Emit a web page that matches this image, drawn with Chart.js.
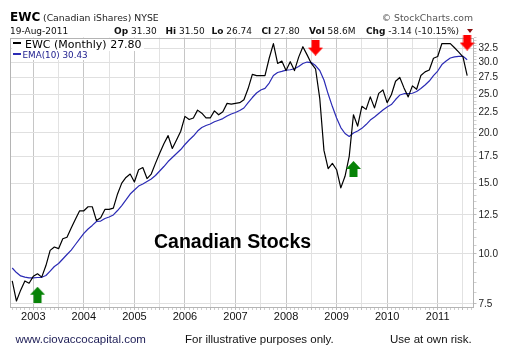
<!DOCTYPE html>
<html><head><meta charset="utf-8">
<script src="https://cdn.jsdelivr.net/npm/chart.js@4.4.1/dist/chart.umd.min.js"></script>
<style>
html,body{margin:0;padding:0;background:#fff;}
#wrap{position:relative;width:505px;height:359px;overflow:hidden;background:#fff;}
#c{position:absolute;left:0;top:0;}
.t{position:absolute;white-space:nowrap;line-height:1;font-family:"DejaVu Sans",Verdana,sans-serif;color:#111;}
.a{font-family:"Liberation Sans",Arial,sans-serif;}
.leg{background:#fff;}
</style></head><body>
<div id="wrap">
<canvas id="c" width="505" height="359"></canvas>
<div class="t" style="left:10px;top:10.5px;font-size:12px;font-weight:bold;color:#000;">EWC</div>
<div class="t" style="left:43px;top:13.1px;font-size:9.3px;color:#222;">(Canadian iShares) NYSE</div>
<div class="t" style="right:32px;top:13.1px;font-size:9.3px;color:#555;">© StockCharts.com</div>
<div class="t" style="left:10px;top:26.7px;font-size:9px;">19-Aug-2011</div>
<div class="t" style="left:114px;top:26.7px;font-size:9px;"><b>Op</b> 31.30</div>
<div class="t" style="left:165.5px;top:26.7px;font-size:9px;"><b>Hi</b> 31.50</div>
<div class="t" style="left:211.5px;top:26.7px;font-size:9px;"><b>Lo</b> 26.74</div>
<div class="t" style="left:261.5px;top:26.7px;font-size:9px;"><b>Cl</b> 27.80</div>
<div class="t" style="left:309px;top:26.7px;font-size:9px;"><b>Vol</b> 58.6M</div>
<div class="t" style="left:366px;top:26.7px;font-size:9px;"><b>Chg</b> -3.14 (-10.15%)</div>
<div style="position:absolute;left:466.5px;top:28.5px;width:0;height:0;border-left:3.5px solid transparent;border-right:3.5px solid transparent;border-top:4px solid #8b1010;"></div>
<div class="t leg" style="left:12px;top:38.5px;font-size:11px;color:#000;padding:0 2px 1px 1px;"><span style="display:inline-block;width:8px;height:2px;background:#000;vertical-align:3.5px;margin-right:4px;"></span>EWC (Monthly) 27.80</div>
<div class="t leg" style="left:12px;top:50.5px;font-size:8.8px;color:#1a1a8c;padding:0 2px 1px 1px;"><span style="display:inline-block;width:8px;height:2px;background:#2b2bb5;vertical-align:2.5px;margin-right:1.5px;"></span>EMA(10) 30.43</div>
<div class="t a" style="left:154px;top:231.8px;font-size:19.5px;font-weight:bold;color:#000;">Canadian Stocks</div>
<div class="t a" style="left:15.5px;top:333.6px;font-size:11.5px;color:#1c1c55;">www.ciovaccocapital.com</div>
<div class="t a" style="left:185px;top:333.6px;font-size:11.5px;color:#111;">For illustrative purposes only.</div>
<div class="t a" style="left:390px;top:333.6px;font-size:11.5px;color:#111;">Use at own risk.</div>
</div>
<script>
// ---- data ----
const startMonth = '2002-08';
const yearLabels = ['2003','2004','2005','2006','2007','2008','2009','2010','2011'];
const yTickValues = [7.5,10,12.5,15,17.5,20,22.5,25,27.5,30,32.5];
const ewcClose = [
  8.56, 7.63, 8.12, 8.56, 8.45,
  8.79, 8.92, 8.75, 9.35, 10.2, 10.4, 10.3, 10.9, 11.0, 11.6, 12.2, 12.8,
  12.8, 13.1, 13.1, 12.1, 12.3, 12.9, 12.9, 13.0, 14.1, 15.0, 15.5, 15.8,
  15.1, 16.2, 16.4, 15.4, 15.8, 16.8, 17.8, 18.8, 19.7, 18.3, 19.2, 20.2,
  22.0, 21.6, 21.8, 22.8, 22.4, 21.8, 21.8, 22.7, 22.2, 22.6, 23.7, 23.6,
  23.7, 23.8, 24.2, 25.8, 28.0, 27.8, 27.8, 27.8, 30.7, 33.4, 29.8, 30.2,
  28.6, 30.1, 28.6, 30.9, 32.8, 31.3, 29.8, 28.9, 24.4, 18.1, 16.3, 16.8,
  16.2, 14.6, 15.6, 17.5, 22.2, 20.8, 23.3, 22.9, 24.6, 23.1, 25.1, 25.6,
  23.8, 24.9, 26.9, 27.5, 25.9, 24.6, 26.2, 25.7, 27.8, 28.4, 28.7, 30.7,
  31.0, 33.4, 33.4, 33.4, 32.6, 31.8, 30.94, 27.80
];
const ema10 = [
  9.22, 8.98, 8.81, 8.75, 8.71,
  8.71, 8.73, 8.74, 8.83, 9.06, 9.30, 9.46, 9.71, 9.96, 10.22, 10.55, 10.89,
  11.24, 11.53, 11.77, 12.04, 12.07, 12.25, 12.35, 12.50, 12.82, 13.19, 13.62, 14.09,
  14.42, 14.75, 14.92, 15.14, 15.36, 15.67, 16.08, 16.50, 16.98, 17.37, 17.78, 18.19,
  18.72, 19.21, 19.65, 20.22, 20.63, 20.87, 21.05, 21.33, 21.52, 21.72, 22.04, 22.30,
  22.49, 22.75, 23.08, 23.81, 24.51, 25.15, 25.58, 25.83, 26.63, 27.80, 28.29, 28.48,
  28.69, 28.74, 28.90, 29.27, 29.78, 30.04, 29.95, 29.44, 28.62, 27.10, 25.00, 23.27,
  21.79, 20.63, 19.94, 19.60, 19.99, 20.22, 20.54, 20.99, 21.54, 21.92, 22.36, 22.81,
  23.21, 23.54, 24.23, 24.86, 25.05, 25.05, 25.12, 25.37, 25.81, 26.33, 26.94, 27.80,
  28.53, 29.61, 30.21, 30.74, 30.95, 31.04, 31.04, 30.43
];
const buySignals  = [['2003-02', 7.91], ['2009-05', 16.27]];
const sellSignals = [['2008-08', 32.64], ['2011-08', 33.6]];

// ---- helpers ----
function monthIndex(s){ const [y,m]=s.split('-').map(Number); return (y-2003)*12 + (m-1); }
const m0 = monthIndex(startMonth);

function arrowCanvas(color, up){
  const c=document.createElement('canvas'); c.width=15; c.height=16;
  const g=c.getContext('2d'); g.fillStyle=color; g.beginPath();
  if(up){ g.moveTo(7.5,0); g.lineTo(15,8); g.lineTo(11.5,8); g.lineTo(11.5,16); g.lineTo(3.5,16); g.lineTo(3.5,8); g.lineTo(0,8); }
  else { g.moveTo(3.5,0); g.lineTo(11.5,0); g.lineTo(11.5,8); g.lineTo(15,8); g.lineTo(7.5,16); g.lineTo(0,8); g.lineTo(3.5,8); }
  g.closePath(); g.fill(); return c;
}
const upImg = arrowCanvas('#078307', true);
const downImg = arrowCanvas('#ff0000', false);

const frame = {
  id:'frame',
  beforeDatasetsDraw(chart){
    const a=chart.chartArea, g=chart.ctx;
    g.save(); g.strokeStyle='#b4b4b4'; g.lineWidth=1;
    g.strokeRect(Math.round(a.left)+0.5, Math.round(a.top)+0.5, Math.round(a.right-a.left)-1, Math.round(a.bottom-a.top)-1);
    g.restore();
  }
};

new Chart(document.getElementById('c'), {
  type:'line',
  data:{datasets:[
    {data: ewcClose.map((v,i)=>({x:m0+i,y:v})), borderColor:'#000', borderWidth:1.2, pointRadius:0, tension:0, order:1},
    {data: ema10.map((v,i)=>({x:m0+i,y:v})), borderColor:'#2b2bb5', borderWidth:1.2, pointRadius:0, tension:0, order:2},
    {data: buySignals.map(([d,v])=>({x:monthIndex(d),y:v})), showLine:false, pointStyle:upImg, pointRadius:8, clip:false, order:0},
    {data: sellSignals.map(([d,v])=>({x:monthIndex(d),y:v})), showLine:false, pointStyle:downImg, pointRadius:8, clip:false, order:0}
  ]},
  options:{
    responsive:false, animation:false, devicePixelRatio:1,
    layout:{padding:{left:10,top:37.5,right:0,bottom:30}},
    plugins:{legend:{display:false}, tooltip:{enabled:false}},
    elements:{line:{borderJoinStyle:'round'}},
    scales:{
      x:{
        type:'linear', min:-5.53, max:104.5,
        afterBuildTicks(s){ const t=[]; for(let m=-5;m<=104;m++) t.push({value:m}); s.ticks=t; },
        afterFit(s){ s.height=22; },
        ticks:{autoSkip:false, maxRotation:0, padding:0, color:'#111',
          font:{family:'"Liberation Sans", Arial, sans-serif', size:11},
          callback(v){ if(v%12!==0) return ''; const i=v/12; return yearLabels[i]!==undefined?yearLabels[i]:''; }},
        grid:{
          color(ctx){ const v=ctx.tick?ctx.tick.value:0; if(v%12===0) return '#c6c6c6'; if(v%6===0) return '#e2e2e2'; return 'rgba(0,0,0,0)'; },
          tickColor(ctx){ const v=ctx.tick?ctx.tick.value:0; return v%6===0 ? '#bdbdbd' : '#cfcfcf'; },
          tickLength:3, lineWidth:1
        },
        border:{display:false}
      },
      y:{
        type:'logarithmic', position:'right', min:7.372, max:34.58,
        afterBuildTicks(s){ const t=[]; for(let v=7.5; v<=34.5; v+=0.5) t.push({value:v}); s.ticks=t; },
        afterFit(s){ s.width=31.5; },
        ticks:{autoSkip:false, padding:2, color:'#222',
          font:{family:'"Liberation Sans", Arial, sans-serif', size:10},
          callback(v){ return yTickValues.includes(v) ? v.toFixed(1) : ''; }},
        grid:{
          color(ctx){ const v=ctx.tick?ctx.tick.value:0; return yTickValues.includes(v) ? '#e0e0e0' : 'rgba(0,0,0,0)'; },
          tickColor(ctx){ const v=ctx.tick?ctx.tick.value:0; return yTickValues.includes(v) ? '#bdbdbd' : '#d0d0d0'; },
          tickLength:3, lineWidth:1
        },
        border:{display:false}
      }
    }
  },
  plugins:[frame]
});
</script>
</body></html>
